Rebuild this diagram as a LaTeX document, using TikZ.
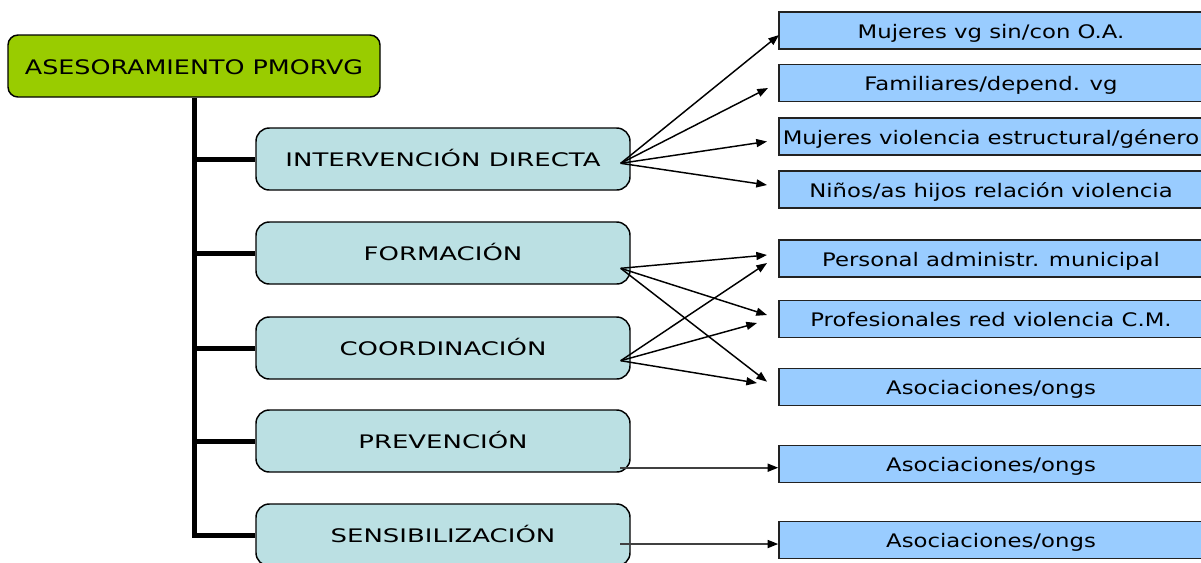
\documentclass[tikz,border=0pt]{standalone}
\usepackage{fontspec}
\usetikzlibrary{arrows.meta}
\newfontfamily\rootfont[FakeStretch=1.27]{DejaVu Sans}
\newfontfamily\midfont[FakeStretch=1.39]{DejaVu Sans}
\newfontfamily\rightfont[FakeStretch=1.22]{DejaVu Sans}
\definecolor{rootgreen}{HTML}{99CC00}
\definecolor{midteal}{HTML}{BBE0E3}
\definecolor{rightblue}{HTML}{99CCFF}
\definecolor{edgegray}{HTML}{222222}
\tikzset{
  rootbox/.style={draw=black, line width=1.1pt, fill=rootgreen, rounded corners=7.5pt,
    minimum width=279pt, minimum height=46.5pt, inner sep=0pt,
    text height=12pt, text depth=0pt,
    font=\rootfont\fontsize{15}{17}\selectfont},
  midbox/.style={draw=black, line width=1.1pt, fill=midteal, rounded corners=10pt,
    minimum width=280.5pt, minimum height=46.5pt, inner sep=0pt,
    text height=11.6pt, text depth=0pt,
    font=\midfont\fontsize{14}{16}\selectfont},
  rightbox/.style={draw=edgegray, line width=1.1pt, fill=rightblue,
    minimum width=318pt, minimum height=27.75pt, inner sep=0pt,
    text height=11.7pt, text depth=0pt,
    font=\rightfont\fontsize{14}{16}\selectfont},
  trunkline/.style={line width=3.75pt, line join=miter},
  arr/.style={line width=1.1pt, -{Triangle[length=8pt,width=6pt]}},
  grayarr/.style={draw=black!75, line width=1.3pt, -{Triangle[length=8pt,width=6pt,color=black]}}
}
\begin{document}
\begin{tikzpicture}[x=0.75pt, y=-0.75pt]
\useasboundingbox (0,0) rectangle (1201,562);
% root
\node[rootbox] (root) at (194,66) {ASESORAMIENTO PMORVG};
% middle boxes
\node[midbox] (int) at (443,159) {INTERVENCIÓN DIRECTA};
\node[midbox] (form) at (443,253) {FORMACIÓN};
\node[midbox] (coord) at (443,348) {COORDINACIÓN};
\node[midbox] (prev) at (443,441) {PREVENCIÓN};
\node[midbox] (sens) at (443,535) {SENSIBILIZACIÓN};
% right boxes
\node[rightbox] (r1) at (991,30.5) {Mujeres vg sin/con O.A.};
\node[rightbox] (r2) at (991,83) {Familiares/depend. vg};
\node[rightbox] (r3) at (991,136.5) {Mujeres violencia estructural/género};
\node[rightbox] (r4) at (991,189.5) {Niños/as hijos relación violencia};
\node[rightbox] (r5) at (991,258.5) {Personal administr. municipal};
\node[rightbox] (r6) at (991,319) {Profesionales red violencia C.M.};
\node[rightbox] (r7) at (991,387) {Asociaciones/ongs};
\node[rightbox] (r8) at (991,464) {Asociaciones/ongs};
\node[rightbox] (r9) at (991,540) {Asociaciones/ongs};
% trunk and branches
\draw[trunkline] (root.south) -- (root.south |- sens.west) -- (sens.west);
\foreach \b in {int,form,coord,prev}{
  \draw[trunkline] (root.south |- \b.west) -- (\b.west);
}
% sources
\coordinate (sint) at (620.7,163.3);
\coordinate (sform) at (620.7,268.3);
\coordinate (scoord) at (620.7,360.7);
\coordinate (sprev) at (620,467.7);
\coordinate (ssens) at (620,544);
% tips
\coordinate (t1) at (779,35);
\coordinate (t2) at (768,88);
\coordinate (t3) at (767,141.5);
\coordinate (t4) at (767,185);
\coordinate (tf5) at (767,255);
\coordinate (tf6) at (767,315);
\coordinate (tf7) at (767,381.7);
\coordinate (tc5) at (767,263);
\coordinate (tc6) at (757,323);
\coordinate (tc7) at (757,383);
% arrows
\draw[arr] (sint) -- (t1);
\draw[arr] (sint) -- (t2);
\draw[arr] (sint) -- (t3);
\draw[arr] (sint) -- (t4);
\draw[arr] (sform) -- (tf5);
\draw[arr] (sform) -- (tf6);
\draw[arr] (sform) -- (tf7);
\draw[arr] (scoord) -- (tc5);
\draw[arr] (scoord) -- (tc6);
\draw[arr] (scoord) -- (tc7);
\draw[grayarr] (sprev) -- (r8.west |- sprev);
\draw[grayarr] (ssens) -- (r9.west |- ssens);
\end{tikzpicture}
\end{document}
